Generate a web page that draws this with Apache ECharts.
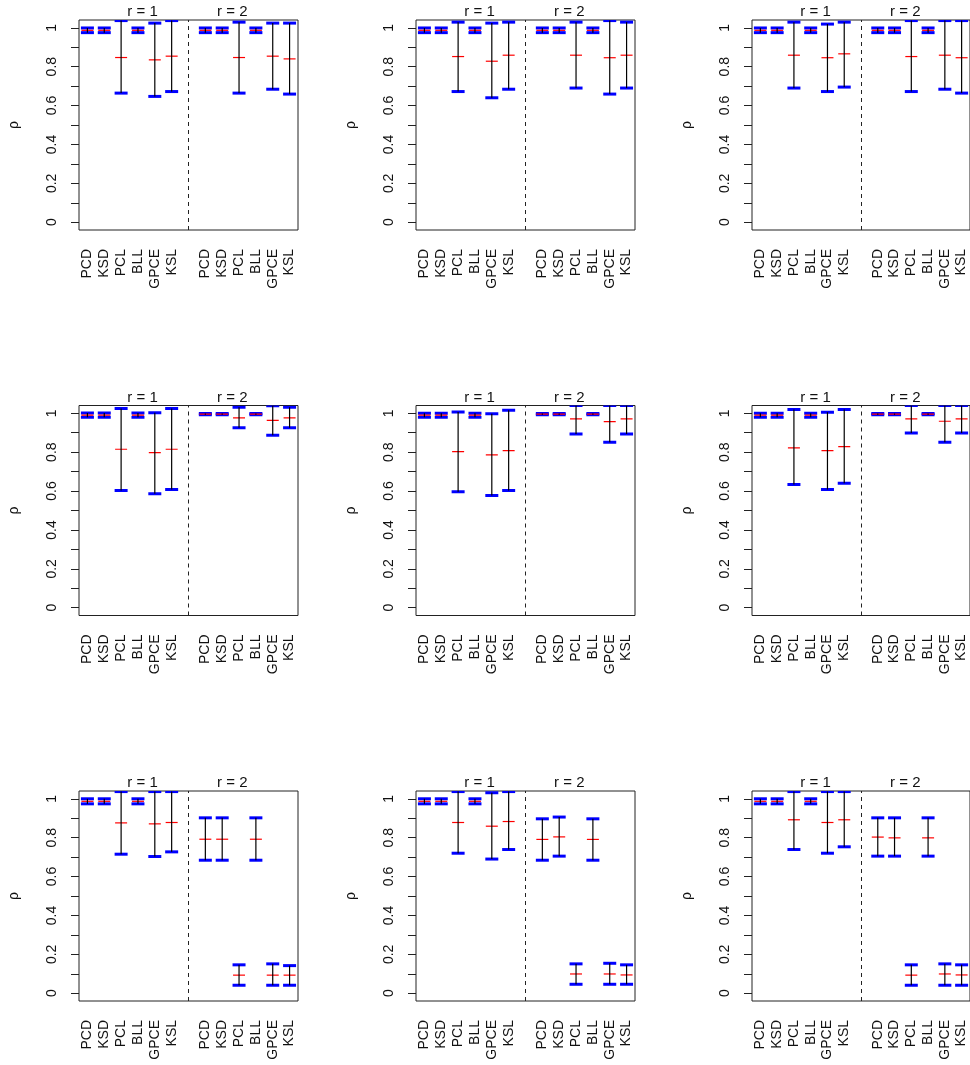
<!DOCTYPE html>
<html><head><meta charset="utf-8">
<script src="https://cdn.jsdelivr.net/npm/echarts@6/dist/echarts.min.js"></script>
<style>html,body{margin:0;padding:0;background:#fff}#c{width:970px;height:1065px}</style>
</head><body><div id="c"></div>
<script>
const categories = ['PCD','KSD','PCL','BLL','GPCE','KSL','','PCD','KSD','PCL','BLL','GPCE','KSL'];
const groupLabels = ['r = 1', 'r = 2'];
const yTicks = [0, 0.1, 0.2, 0.3, 0.4, 0.5, 0.6, 0.7, 0.8, 0.9, 1];
const yTickLabels = [0, 0.2, 0.4, 0.6, 0.8, 1];
const yName = 'ρ';

const low1  = [0.975,0.975,0.664,0.975,0.647,0.672,null,0.975,0.975,0.664,0.975,0.684,0.659];
const mean1 = [0.987,0.987,0.847,0.987,0.835,0.854,null,0.987,0.987,0.847,0.987,0.854,0.840];
const high1 = [0.999,0.999,1.037,0.999,1.024,1.037,null,0.999,0.999,1.029,0.999,1.024,1.024];

const low2  = [0.975,0.975,0.672,0.975,0.640,0.684,null,0.975,0.975,0.690,0.975,0.659,0.690];
const mean2 = [0.987,0.987,0.852,0.987,0.828,0.859,null,0.987,0.987,0.859,0.987,0.846,0.859];
const high2 = [0.999,0.999,1.029,0.999,1.024,1.029,null,0.999,0.999,1.029,0.999,1.037,1.029];

const low3  = [0.975,0.975,0.690,0.975,0.672,0.695,null,0.975,0.975,0.672,0.975,0.684,0.664];
const mean3 = [0.987,0.987,0.859,0.987,0.846,0.866,null,0.987,0.987,0.852,0.987,0.859,0.846];
const high3 = [0.999,0.999,1.029,0.999,1.019,1.029,null,0.999,0.999,1.037,0.999,1.037,1.037];

const low4  = [0.979,0.979,0.603,0.979,0.586,0.608,null,0.993,0.993,0.925,0.993,0.887,0.925];
const mean4 = [0.990,0.990,0.815,0.990,0.798,0.815,null,0.996,0.996,0.976,0.996,0.964,0.976];
const high4 = [1.002,1.002,1.024,1.002,1.003,1.024,null,0.999,0.999,1.031,0.999,1.039,1.031];

const low5  = [0.980,0.980,0.596,0.980,0.577,0.603,null,0.993,0.993,0.894,0.993,0.851,0.894];
const mean5 = [0.990,0.990,0.803,0.990,0.786,0.808,null,0.996,0.996,0.971,0.996,0.957,0.971];
const high5 = [1.000,1.000,1.007,1.000,0.998,1.015,null,0.999,0.999,1.040,0.999,1.040,1.040];

const low6  = [0.980,0.980,0.634,0.980,0.608,0.640,null,0.993,0.993,0.899,0.993,0.851,0.899];
const mean6 = [0.990,0.990,0.822,0.990,0.808,0.829,null,0.996,0.996,0.971,0.996,0.959,0.971];
const high6 = [1.000,1.000,1.019,1.000,1.005,1.019,null,0.999,0.999,1.040,0.999,1.040,1.040];

const low7  = [0.974,0.974,0.715,0.974,0.703,0.727,null,0.684,0.684,0.041,0.684,0.041,0.041];
const mean7 = [0.987,0.987,0.876,0.987,0.871,0.878,null,0.792,0.792,0.093,0.792,0.093,0.093];
const high7 = [1.000,1.000,1.037,1.000,1.037,1.037,null,0.902,0.902,0.146,0.902,0.151,0.142];

const low8  = [0.974,0.974,0.720,0.974,0.690,0.739,null,0.684,0.705,0.046,0.684,0.046,0.046];
const mean8 = [0.987,0.987,0.878,0.987,0.859,0.883,null,0.791,0.804,0.099,0.791,0.099,0.094];
const high8 = [1.000,1.000,1.037,1.000,1.031,1.037,null,0.897,0.906,0.151,0.897,0.154,0.146];

const low9  = [0.974,0.974,0.739,0.974,0.720,0.753,null,0.705,0.705,0.041,0.705,0.041,0.041];
const mean9 = [0.987,0.987,0.892,0.987,0.878,0.892,null,0.803,0.799,0.093,0.799,0.099,0.094];
const high9 = [1.000,1.000,1.037,1.000,1.037,1.037,null,0.902,0.902,0.146,0.902,0.151,0.146];

const panels = [
  [low1, mean1, high1], [low2, mean2, high2], [low3, mean3, high3],
  [low4, mean4, high4], [low5, mean5, high5], [low6, mean6, high6],
  [low7, mean7, high7], [low8, mean8, high8], [low9, mean9, high9]
];

const colLefts = [79, 416, 752];
const rowTops = [20, 405.5, 791];
const W = 219, H = 210;
const FONT = 'Liberation Sans, Arial, sans-serif';

const chart = echarts.init(document.getElementById('c'), null, {renderer: 'canvas'});

function renderItem(params, api) {
  const x = api.value(0);
  const lo = api.coord([x, api.value(1)]);
  const mu = api.coord([x, api.value(2)]);
  const hi = api.coord([x, api.value(3)]);
  const capHalf = 6.5, midHalf = 6;
  return {
    type: 'group',
    children: [
      {type: 'line', shape: {x1: lo[0]-capHalf, y1: lo[1], x2: lo[0]+capHalf, y2: lo[1]}, style: {stroke: '#0000ff', lineWidth: 3}},
      {type: 'line', shape: {x1: hi[0]-capHalf, y1: hi[1], x2: hi[0]+capHalf, y2: hi[1]}, style: {stroke: '#0000ff', lineWidth: 3}},
      {type: 'line', shape: {x1: mu[0]-midHalf, y1: mu[1], x2: mu[0]+midHalf, y2: mu[1]}, style: {stroke: '#ff0000', lineWidth: 1.2}},
      {type: 'line', shape: {x1: lo[0], y1: lo[1], x2: hi[0], y2: hi[1]}, style: {stroke: '#000000', lineWidth: 1.2}}
    ]
  };
}

const grid = [], xAxis = [], yAxis = [], series = [], graphic = [];
panels.forEach((p, k) => {
  const r = Math.floor(k / 3), c = k % 3;
  const left = colLefts[c], top = rowTops[r];
  grid.push({left: left, top: top, width: W, height: H, show: true, borderColor: '#222', borderWidth: 1, backgroundColor: 'transparent'});
  xAxis.push({
    type: 'category', gridIndex: k, data: categories, boundaryGap: true,
    axisLine: {show: false}, axisTick: {show: false}, splitLine: {show: false},
    axisLabel: {interval: 0, rotate: 90, margin: 19, fontSize: 14, color: '#111', fontFamily: FONT}
  });
  yAxis.push({
    type: 'value', gridIndex: k, min: -0.04, max: 1.04,
    name: yName, nameLocation: 'middle', nameRotate: 90, nameGap: 58,
    nameTextStyle: {fontSize: 14, color: '#111', fontFamily: FONT},
    axisLine: {show: false}, splitLine: {show: false},
    axisTick: {show: true, length: 8, customValues: yTicks, lineStyle: {color: '#222', width: 1}},
    axisLabel: {customValues: yTickLabels, rotate: 90, margin: 20, fontSize: 14, color: '#111', fontFamily: FONT}
  });
  const data = [];
  p[0].forEach((lo, i) => { if (lo !== null) data.push([i, lo, p[1][i], p[2][i]]); });
  series.push({
    type: 'custom', xAxisIndex: k, yAxisIndex: k, data: data, renderItem: renderItem, clip: true,
    encode: {x: 0, y: [1, 2, 3]}, silent: true, animation: false,
    markLine: {
      silent: true, symbol: ['none', 'none'], label: {show: false}, animation: false,
      lineStyle: {color: '#222', width: 1, type: [4, 4]},
      data: [{xAxis: 6}]
    }
  });
  graphic.push({type: 'text', x: left + 0.29 * W, y: top - 8, style: {text: groupLabels[0], fontSize: 15, fill: '#111', fontFamily: FONT, align: 'center', verticalAlign: 'middle'}});
  graphic.push({type: 'text', x: left + 0.70 * W, y: top - 8, style: {text: groupLabels[1], fontSize: 15, fill: '#111', fontFamily: FONT, align: 'center', verticalAlign: 'middle'}});
});

chart.setOption({animation: false, backgroundColor: '#fff', grid, xAxis, yAxis, series, graphic});
</script></body></html>
